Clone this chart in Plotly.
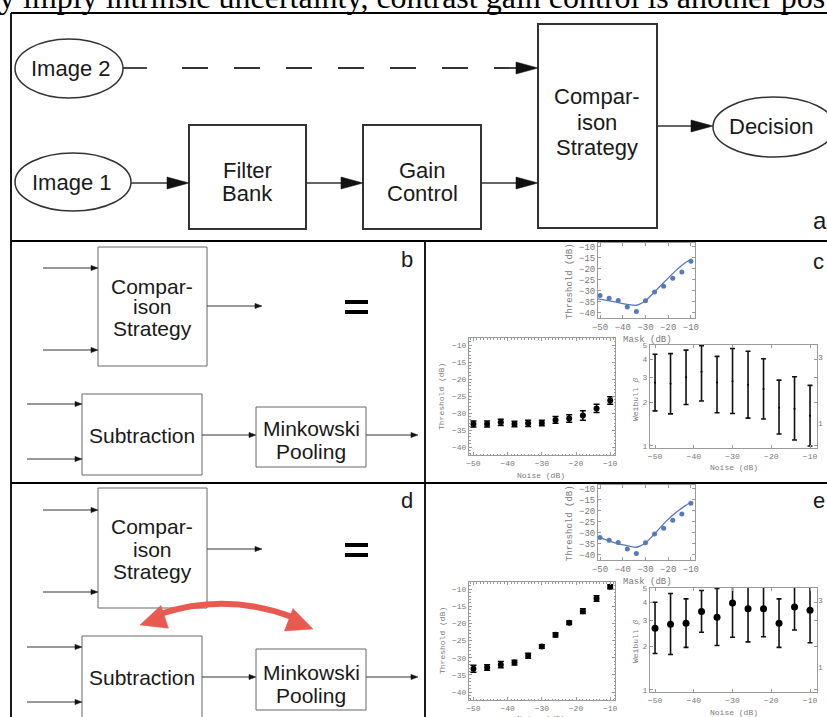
import math
import plotly.graph_objects as go

W, H = 827, 717

# ---------------- data ----------------
noise_db = [-50, -46, -42, -38, -34, -30, -26, -22, -18, -14, -10]
mask_db = [-50, -46, -42, -38, -34, -30, -26, -22, -18, -14, -10]
mask_thresh = [-32.1, -33.3, -34.4, -37.3, -39.4, -34.5, -30.5, -27.9, -24.2, -21.4, -16.5]

model_c_x = [-50.9, -43.4, -37.5, -33.9, -30.2, -25.8, -21.4, -17.0, -12.6, -9.7]
model_c_y = [-33.6, -35.0, -36.2, -36.5, -34.7, -30.2, -25.6, -21.1, -17.3, -15.5]
model_e_x = [-50.3, -46.3, -42.0, -37.5, -33.9, -30.2, -25.8, -21.4, -17.0, -12.6, -9.7]
model_e_y = [-32.0, -33.5, -35.0, -35.9, -36.5, -34.7, -30.2, -25.2, -21.1, -17.7, -15.8]

noise_thresh_c = [-33.2, -33.2, -32.7, -33.2, -33.0, -32.9, -32.0, -31.6, -30.7, -28.6, -26.3]
noise_err_c = [0.9, 0.9, 0.9, 0.8, 0.9, 0.8, 1.0, 1.1, 1.4, 1.2, 1.1]
noise_thresh_e = [-33.2, -32.8, -32.0, -31.4, -29.4, -26.7, -23.3, -19.8, -16.4, -12.7, -9.3]
noise_err_e = [1.0, 0.8, 0.9, 0.7, 0.7, 0.5, 0.6, 0.5, 0.7, 0.8, 0.6]

beta_c = [2.74, 2.70, 3.00, 3.27, 2.75, 2.81, 2.66, 2.48, 1.84, 1.81, 1.62]
beta_c_hi = [4.32, 4.37, 4.62, 4.95, 4.18, 4.74, 4.54, 4.02, 2.86, 3.02, 2.63]
beta_c_lo = [1.75, 1.67, 1.94, 2.05, 1.70, 1.68, 1.56, 1.54, 1.21, 1.10, 1.00]

beta_e = [2.65, 2.83, 2.87, 3.46, 3.16, 3.96, 3.61, 3.61, 2.87, 3.71, 3.52]
beta_e_hi = [4.00, 4.59, 4.22, 4.82, 4.97, 5.60, 5.60, 5.60, 4.22, 5.60, 5.60]
beta_e_lo = [1.78, 1.75, 1.96, 2.49, 2.02, 2.30, 2.14, 2.32, 1.96, 2.58, 2.11]

x_ticks = [-50, -40, -30, -20, -10]
thr_ticks = [-10, -15, -20, -25, -30, -35, -40]
beta_ticks = [1, 2, 3, 4, 5]
right_ticks = [1, 3]

# ---------------- helpers ----------------
def X(p):
    return p / W

def Y(p):
    return 1 - p / H

shapes = []
annots = []

def line(x0, y0, x1, y1, w=1.5, c="#333", dash="solid"):
    shapes.append(dict(type="line", xref="paper", yref="paper", x0=X(x0), y0=Y(y0),
                       x1=X(x1), y1=Y(y1), line=dict(color=c, width=w, dash=dash), layer="above"))

def rect(x0, y0, x1, y1, w=1.5, c="#333"):
    shapes.append(dict(type="rect", xref="paper", yref="paper", x0=X(x0), y0=Y(y0),
                       x1=X(x1), y1=Y(y1), line=dict(color=c, width=w), fillcolor="rgba(0,0,0,0)", layer="above"))

def ellipse(x0, y0, x1, y1, w=1.5, c="#333"):
    shapes.append(dict(type="circle", xref="paper", yref="paper", x0=X(x0), y0=Y(y0),
                       x1=X(x1), y1=Y(y1), line=dict(color=c, width=w), layer="above"))

def head(tx, ty, dx, dy, L, hw, c="#222"):
    n = math.hypot(dx, dy)
    ux, uy = dx / n, dy / n
    bx, by = tx - L * ux, ty - L * uy
    px_, py_ = -uy, ux
    p1 = (bx + hw * px_, by + hw * py_)
    p2 = (bx - hw * px_, by - hw * py_)
    path = "M %f,%f L %f,%f L %f,%f Z" % (X(tx), Y(ty), X(p1[0]), Y(p1[1]), X(p2[0]), Y(p2[1]))
    shapes.append(dict(type="path", xref="paper", yref="paper", path=path,
                       fillcolor=c, line=dict(color=c, width=0.5), layer="above"))

def arrow(x0, x1, y, L, hw, w=1.5, c="#333"):
    line(x0, y, x1 - L + 1, y, w, c)
    head(x1, y, 1, 0, L, hw, "#111")

def text(s, x, y, size=21, fam="Liberation Sans", color="#1a1a1a", angle=0, xa="center", ya="middle"):
    annots.append(dict(text=s, x=X(x), y=Y(y), xref="paper", yref="paper", showarrow=False,
                       xanchor=xa, yanchor=ya, textangle=angle,
                       font=dict(family=fam, size=size, color=color)))

# ---------------- frame / panel borders ----------------
line(11, 13, 827, 13, 1.8, "#000")
line(11, 13, 11, 717, 1.8, "#000")
line(11, 241, 827, 241, 1.8, "#000")
line(11, 483, 827, 483, 1.8, "#000")
line(425, 241, 425, 717, 1.8, "#000")

# clipped running text above the figure
text("y imply intrinsic uncertainty, contrast gain control is another pos", -3, 17, 32,
     "Liberation Serif", "#000", xa="left", ya="bottom")

# ---------------- panel a ----------------
ellipse(15, 39, 123, 98)
ellipse(15, 153, 131, 211)
ellipse(713, 97, 835, 157)
rect(189, 125, 306, 229, 2)
rect(363, 125, 481, 229, 2)
rect(538, 24, 657, 228, 2)
arrow(131, 189, 183, 22, 6)
arrow(306, 363, 183, 22, 6)
arrow(481, 538, 183, 22, 6)
arrow(657, 713, 126, 22, 6)
line(123, 68, 147, 68, 1.8)
line(182, 68, 517, 68, 1.8, "#333", "26px,26px")
head(538, 68, 1, 0, 22, 6, "#111")

text("Image 2", 71, 68, 22)
text("Image 1", 72, 183, 22)
text("Filter", 247, 170, 22)
text("Bank", 247, 194, 22)
text("Gain", 422, 170, 22)
text("Control", 422, 194, 22)
text("Compar-", 597, 97, 22)
text("ison", 597, 122, 22)
text("Strategy", 597, 147, 22)
text("Decision", 771, 126, 22)
text("a", 820, 221, 24)

# ---------------- panels b and d ----------------
rect(98, 247, 207, 366, 1, "#666")
arrow(43, 98, 268, 7, 2.6, 1)
arrow(43, 98, 350, 7, 2.6, 1)
arrow(207, 262, 306, 7, 2.6, 1)
text("Compar-", 152, 286, 21)
text("ison", 152, 307, 21)
text("Strategy", 152, 329, 21)
rect(82, 394, 202, 475, 1, "#666")
arrow(27, 82, 404, 7, 2.6, 1)
arrow(27, 82, 459, 7, 2.6, 1)
arrow(202, 256, 435, 7, 2.6, 1)
rect(256, 407, 366, 467, 1, "#666")
arrow(366, 418, 435, 7, 2.6, 1)
text("Subtraction", 142, 435, 21)
text("Minkowski", 311, 428, 21)
text("Pooling", 311, 451, 21)
line(345, 302, 368, 302, 4, "#000")
line(345, 312, 368, 312, 4, "#000")
text("b", 407, 259, 22)

# panel d
rect(98, 488, 207, 608, 1, "#666")
arrow(43, 98, 510, 7, 2.6, 1)
arrow(43, 98, 592, 7, 2.6, 1)
arrow(207, 262, 549, 7, 2.6, 1)
text("Compar-", 152, 526, 21)
text("ison", 152, 549, 21)
text("Strategy", 152, 571, 21)
rect(82, 636, 202, 740, 1, "#666")
arrow(27, 82, 647, 7, 2.6, 1)
arrow(27, 82, 702, 7, 2.6, 1)
arrow(202, 256, 677, 7, 2.6, 1)
rect(256, 649, 366, 710, 1, "#666")
arrow(366, 418, 677, 7, 2.6, 1)
text("Subtraction", 142, 677, 21)
text("Minkowski", 311, 672, 21)
text("Pooling", 311, 695, 21)
line(345, 545, 368, 545, 4, "#000")
line(345, 555, 368, 555, 4, "#000")
text("d", 407, 500, 22)

# red double arrow
RED = "#E85A50"
p0 = (160, 614)
cc = (226, 592)
p2 = (292, 617)
shapes.append(dict(type="path", xref="paper", yref="paper",
                   path="M %f,%f Q %f,%f %f,%f" % (X(p0[0]), Y(p0[1]), X(cc[0]), Y(cc[1]), X(p2[0]), Y(p2[1])),
                   line=dict(color=RED, width=6), layer="above"))
head(140, 625, p0[0] - cc[0], p0[1] - cc[1], 26, 12, RED)
head(313, 629, p2[0] - cc[0], p2[1] - cc[1], 26, 12, RED)

text("c", 818, 261, 22)
text("e", 819, 500, 22)

# ---------------- data plots ----------------
BLUE = "#5878BC"
GR = "#9a9a9a"
TXT = "#7a7a7a"
MONO = "Liberation Mono"

def dom(a, b, horiz):
    if horiz:
        return [a / W, b / W]
    return [1 - b / H, 1 - a / H]

def axis(d, rng, tv, size, anchor, typ="linear", minor_dt=None):
    a = dict(domain=d, range=rng, tickvals=tv, type=typ, showline=True, linecolor=GR, linewidth=1,
             mirror="ticks", ticks="inside", ticklen=3, tickcolor=GR, anchor=anchor,
             tickfont=dict(family=MONO, size=size, color=TXT), showgrid=False, zeroline=False,
             fixedrange=True, automargin=False)
    if minor_dt:
        a["minor"] = dict(ticks="inside", ticklen=1.5, tickcolor=GR, dtick=minor_dt)
    return a

fig = go.Figure()

# c top / e top
for ax, mx, my in [("", model_c_x, model_c_y), ("4", model_e_x, model_e_y)]:
    fig.add_trace(go.Scatter(x=mx, y=my, mode="lines", line=dict(color=BLUE, width=1.3, shape="spline", smoothing=0.6),
                             xaxis="x" + ax, yaxis="y" + ax, showlegend=False, hoverinfo="skip"))
    fig.add_trace(go.Scatter(x=mask_db, y=mask_thresh, mode="markers", marker=dict(color=BLUE, size=5),
                             xaxis="x" + ax, yaxis="y" + ax, showlegend=False))

# c bottom-left / e bottom-left
for ax, yv, ev in [("2", noise_thresh_c, noise_err_c), ("5", noise_thresh_e, noise_err_e)]:
    fig.add_trace(go.Scatter(x=noise_db, y=yv, mode="markers", marker=dict(color="#000", size=6),
                             error_y=dict(type="data", array=ev, color="#000", thickness=1.5, width=3),
                             xaxis="x" + ax, yaxis="y" + ax, showlegend=False))

# c bottom-right / e bottom-right
for ax, b, hi, lo, ms in [("3", beta_c, beta_c_hi, beta_c_lo, 2), ("6", beta_e, beta_e_hi, beta_e_lo, 7)]:
    fig.add_trace(go.Scatter(x=noise_db, y=b, mode="markers", marker=dict(color="#000", size=ms),
                             error_y=dict(type="data", array=[h - v for h, v in zip(hi, b)],
                                          arrayminus=[v - l for l, v in zip(lo, b)],
                                          color="#111", thickness=1.6, width=2.5),
                             xaxis="x" + ax, yaxis="y" + ax, showlegend=False))

layout = dict(width=W, height=H, margin=dict(l=0, r=0, t=0, b=0, pad=0, autoexpand=False),
              paper_bgcolor="white", plot_bgcolor="white", showlegend=False, shapes=shapes)

# axes: c-top, c-bl, c-br, e-top, e-bl, e-br
layout["xaxis"] = axis(dom(598, 695, True), [-50.9, -8.2], x_ticks, 9, "y")
layout["yaxis"] = axis(dom(243, 318, False), [-42.3, -8.2], thr_ticks, 9, "x")
layout["xaxis4"] = axis(dom(598, 695, True), [-50.9, -8.2], x_ticks, 9, "y4")
layout["yaxis4"] = axis(dom(485, 560, False), [-42.3, -8.2], thr_ticks, 9, "x4")

layout["xaxis2"] = axis(dom(469, 615, True), [-51.3, -8.6], x_ticks, 8, "y2", minor_dt=1)
layout["yaxis2"] = axis(dom(338, 455, False), [-42.3, -7.9], thr_ticks, 8, "x2", minor_dt=1)
layout["xaxis5"] = axis(dom(469, 615, True), [-51.3, -8.6], x_ticks, 8, "y5", minor_dt=1)
layout["yaxis5"] = axis(dom(582, 700, False), [-42.3, -7.9], thr_ticks, 8, "x5", minor_dt=1)

layout["xaxis3"] = axis(dom(650, 817, True), [-51.3, -8.2], x_ticks, 8, "y3")
layout["yaxis3"] = axis(dom(345, 448, False), [-0.014, 0.70], beta_ticks, 8, "x3", typ="log")
layout["xaxis6"] = axis(dom(650, 817, True), [-51.3, -8.2], x_ticks, 8, "y6")
layout["yaxis6"] = axis(dom(588, 692, False), [-0.014, 0.70], beta_ticks, 8, "x6", typ="log")

for yn, xa, ov in [("yaxis7", "x3", "y3"), ("yaxis8", "x6", "y6")]:
    layout[yn] = dict(overlaying=ov, side="right", anchor=xa,
                      range=[0.26, 3.36], tickvals=right_ticks, showline=False, showgrid=False,
                      zeroline=False, ticks="", tickfont=dict(family=MONO, size=8, color=TXT),
                      fixedrange=True, automargin=False)
fig.add_trace(go.Scatter(x=[None], y=[None], xaxis="x3", yaxis="y7", showlegend=False))
fig.add_trace(go.Scatter(x=[None], y=[None], xaxis="x6", yaxis="y8", showlegend=False))

# axis titles as annotations
for dy in (0, 242):
    text("Threshold (dB)", 570, 281 + dy, 9, MONO, TXT, angle=-90)
    text("Mask (dB)", 647, 340 + dy, 9, MONO, TXT)
for dy in (0, 244):
    text("Threshold (dB)", 442, 397 + dy, 8, MONO, TXT, angle=-90)
    text("Noise (dB)", 541, 475 + dy, 8, MONO, TXT)
text("Weibull <i>β</i>", 635, 400, 8, MONO, TXT, angle=-90)
text("Noise (dB)", 734, 467, 8, MONO, TXT)
text("Weibull <i>β</i>", 635, 642, 8, MONO, TXT, angle=-90)
text("Noise (dB)", 734, 712, 8, MONO, TXT)

layout["annotations"] = annots
fig.update_layout(**layout)
fig.write_html("out.html", config={"displayModeBar": False},
               post_script="document.body.style.margin='0';document.body.style.overflow='hidden';")
